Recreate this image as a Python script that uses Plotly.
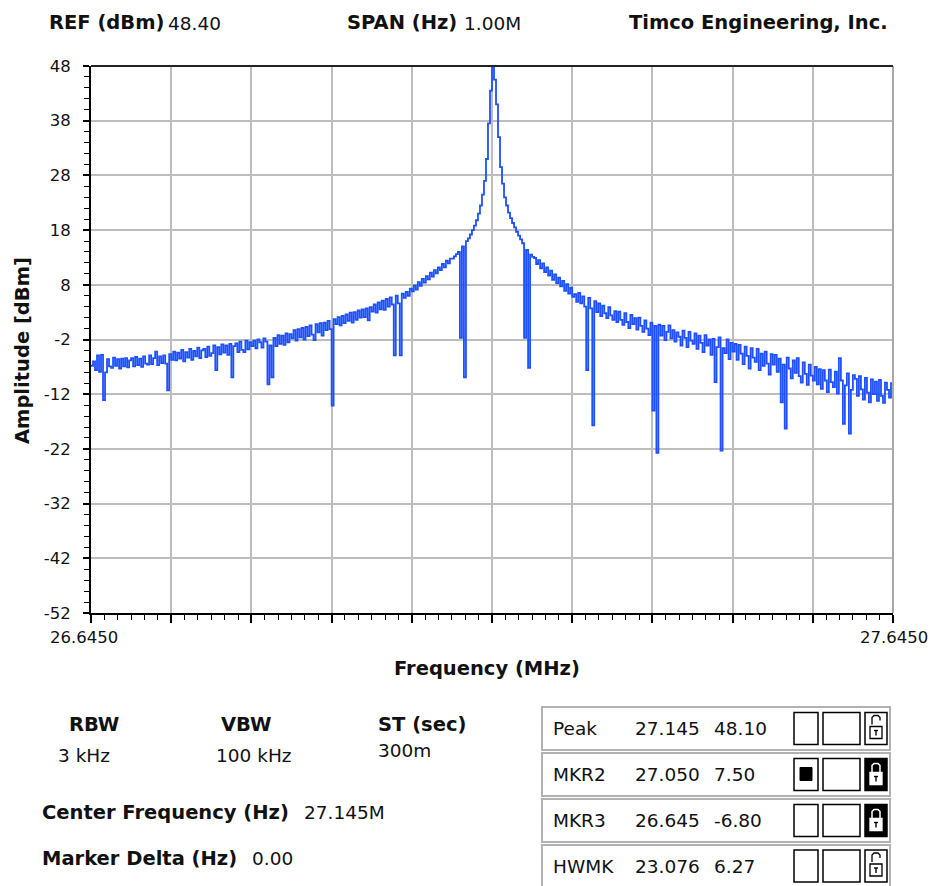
import plotly.graph_objects as go

# ---------------- data ----------------
F_START = 26.645
F_STOP = 27.645

AMP_DBM = [
    -6.8, -6.0, -7.6, -4.9, -7.9, -4.8, -13.1, -8.0, -5.6, -6.9, -7.2, -5.3, -6.8, -5.6, -7.3, -5.5, -6.9, -5.4, -7.1, -5.8,
    -5.4, -6.9, -5.2, -6.7, -5.5, -7.0, -5.1, -6.4, -6.6, -4.9, -6.5, -5.4, -4.2, -6.7, -5.1, -6.3, -4.9, -6.4, -11.3, -4.7,
    -5.7, -4.2, -5.8, -4.4, -5.5, -3.9, -6.0, -4.3, -5.3, -3.7, -5.7, -4.1, -5.1, -3.5, -5.4, -4.0, -3.7, -5.2, -3.3, -5.0,
    -4.5, -3.1, -7.6, -3.4, -4.7, -2.9, -4.4, -3.1, -4.8, -2.8, -8.9, -3.2, -2.7, -4.3, -2.4, -3.9, -4.3, -2.2, -3.8, -2.5,
    -3.2, -2.2, -3.6, -2.0, -2.5, -3.5, -1.8, -2.4, -10.2, -3.1, -8.9, -1.7, -3.2, -1.2, -2.8, -1.3, -3.0, -0.9, -2.5, -1.0,
    -1.8, -0.3, -2.2, -0.1, -1.6, 0.1, -2.0, 0.3, -1.4, 0.6, -1.1, -2.1, 0.8, -0.7, 1.0, -1.3, 1.1, -0.3, 1.4, -0.1,
    -14.1, 1.7, 0.8, 2.1, 0.6, 2.3, 1.0, 2.6, 1.4, 2.9, 1.1, 3.0, 1.6, 3.3, 2.0, 3.5, 2.1, 3.7, 1.5, 3.9,
    3.1, 4.4, 2.9, 4.8, 3.5, 5.1, 3.4, 5.4, 4.0, 5.7, 4.4, -4.9, 6.0, 4.6, -4.9, 6.4, 5.6, 6.7, 6.0, 7.3,
    6.8, 7.9, 7.1, 8.5, 7.8, 9.1, 8.4, 9.6, 9.0, 10.2, 9.5, 10.7, 10.1, 11.2, 10.7, 11.8, 11.2, 12.4, 11.9, 12.8,
    12.8, 13.2, 13.6, 14.0, -1.7, 15.0, -8.9, 16.0, 16.5, 17.2, 18.0, 18.8, 19.8, 21.0, 22.5, 24.5, 27.0, 31.0, 37.5, 43.5,
    48.1,
    45.5, 41.0, 35.0, 29.5, 26.5, 24.0, 22.5, 21.2, 20.2, 19.3, 18.5, 17.7, 17.0, 16.3, 15.6, -1.7, 14.4, -7.2, 13.5, 13.1,
    12.9, 11.8, 12.5, 11.0, 11.9, 10.3, 11.2, 9.7, 10.6, 8.9, 9.9, 8.3, 9.3, 7.7, 8.7, 6.9, 8.1, 6.4, 7.5, 5.8,
    6.3, 4.9, 6.5, 4.6, 5.9, 4.0, -7.6, 5.6, 3.7, -17.7, 5.0, 3.0, 4.6, 2.3, 4.2, 2.8, 1.9, 3.9, 2.4, 1.6,
    3.2, 1.2, 3.1, 1.6, 0.7, 2.8, 1.2, 0.1, 2.5, 0.8, 1.9, -0.2, 2.0, 0.5, -0.6, 1.5, 0.0, -1.2, 1.1, -15.0,
    0.5, -22.7, 0.7, -1.3, 0.5, -2.1, -0.6, 0.6, -1.8, -0.3, -2.4, -0.7, -1.5, -3.1, -0.4, -1.7, -3.4, -0.6, -2.2, -2.8,
    -0.9, -3.7, -1.3, -2.6, -4.3, -1.2, -3.1, -2.0, -4.8, -1.9, -9.8, -3.4, -1.6, -22.3, -3.6, -4.5, -2.0, -5.6, -2.6, -4.2,
    -2.8, -5.7, -3.0, -4.6, -6.5, -3.3, -5.0, -7.3, -3.6, -5.3, -6.1, -3.7, -7.6, -4.6, -6.8, -4.2, -6.4, -8.4, -4.7, -6.6,
    -4.8, -7.9, -5.5, -13.5, -6.6, -18.3, -5.3, -7.3, -9.1, -5.8, -8.1, -5.4, -8.7, -9.9, -6.2, -8.3, -10.3, -6.6, -8.6, -9.5,
    -7.0, -10.2, -7.4, -11.0, -7.6, -9.5, -11.6, -7.5, -9.8, -10.7, -7.9, -11.9, -5.4, -9.5, -17.4, -10.4, -8.2, -19.2, -11.2, -8.5,
    -9.2, -12.3, -8.7, -11.1, -13.0, -9.0, -11.7, -13.5, -9.3, -12.0, -9.7, -13.2, -9.4, -12.3, -13.6, -9.9, -11.2, -12.6, -10.0, -10.5,
]

Y_TICKS = [48, 38, 28, 18, 8, -2, -12, -22, -32, -42, -52]
X_GRID = [26.645, 26.745, 26.845, 26.945, 27.045, 27.145, 27.245, 27.345, 27.445, 27.545, 27.645]
X_END_LABELS = ["26.6450", "27.6450"]

HEADER = [("REF (dBm)", "48.40"), ("SPAN (Hz)", "1.00M")]
COMPANY = "Timco Engineering, Inc."
SETTINGS = [("RBW", "3 kHz"), ("VBW", "100 kHz"), ("ST (sec)", "300m")]
CENTER_FREQ = "27.145M"
MARKER_DELTA = "0.00"

MARKER_NAMES = ["Peak", "MKR2", "MKR3", "HWMK"]
MARKER_FREQ = ["27.145", "27.050", "26.645", "23.076"]
MARKER_AMP = ["48.10", "7.50", "-6.80", "6.27"]
MARKER_ACTIVE = [False, True, False, False]
MARKER_LOCKED = [False, True, True, False]

# ---------------- layout geometry ----------------
W, H = 932, 886
L, R, T, B = 91, 893, 66, 613   # plot area in window pixels
PW, PH = R - L, B - T

def px(x):
    return (x - L) / PW

def py(y):
    return (B - y) / PH

FONT = "DejaVu Sans"
TXT = "#111111"
BOLD = 19.5
NORM = 18.5

n = len(AMP_DBM)
freq = [F_START + i * (F_STOP - F_START) / (n - 1) for i in range(n)]

fig = go.Figure()
fig.add_trace(go.Scatter(
    x=freq, y=AMP_DBM, mode="lines",
    line=dict(color="#1e50ff", width=1.8, shape="hv"),
    hoverinfo="skip", showlegend=False,
))

annotations = []
shapes = []

def text(x, y, s, size, bold=False, anchor="left", color=TXT, angle=0):
    annotations.append(dict(
        x=px(x), y=py(y), xref="paper", yref="paper",
        text=f"<b>{s}</b>" if bold else s, showarrow=False,
        xanchor=anchor, yanchor="middle", textangle=angle,
        font=dict(family=FONT, size=size, color=color),
    ))

# header
text(47, 22, HEADER[0][0], BOLD, bold=True)
text(166, 23, HEADER[0][1], NORM)
text(345, 22, HEADER[1][0], BOLD, bold=True)
text(462, 23, HEADER[1][1], NORM)
text(890, 22, COMPANY, BOLD, bold=True, anchor="right")

# axis titles and end labels of the frequency axis
text(22, 351, "Amplitude [dBm]", BOLD, bold=True, anchor="center", angle=-90)
text(487, 668, "Frequency (MHz)", BOLD, bold=True, anchor="center")
text(48, 637, X_END_LABELS[0], 16.5)
text(930, 637, X_END_LABELS[1], 16.5, anchor="right")

# settings block
set_x = [(94, 84), (246, 254), (376, 376)]
for (lab, val), (xl, xv) in zip(SETTINGS, set_x):
    if lab.startswith("ST"):
        text(xl, 724, lab, BOLD, bold=True)
        text(xv, 750, val, NORM)
    else:
        text(xl, 724, lab, BOLD, bold=True, anchor="center")
        text(xv, 755, val, NORM, anchor="center")

text(40, 812, "Center Frequency (Hz)", BOLD, bold=True)
text(302, 812, CENTER_FREQ, NORM)
text(40, 859, "Marker Delta (Hz)", BOLD, bold=True)
text(250, 859, MARKER_DELTA, NORM)

# marker table
def rect(x0, y0, x1, y1, line="#000000", lw=1.5, fill="white"):
    shapes.append(dict(type="rect", xref="paper", yref="paper",
                       x0=px(x0), x1=px(x1), y0=py(y1), y1=py(y0),
                       line=dict(color=line, width=lw), fillcolor=fill, layer="above"))

def path(points, line="#000000", lw=1.5):
    d = "M " + " L ".join(f"{px(a):.5f},{py(b):.5f}" for a, b in points)
    shapes.append(dict(type="path", xref="paper", yref="paper", path=d,
                       line=dict(color=line, width=lw), layer="above"))

row_top = [707, 753, 799, 845]
row_bot = [750, 796, 842, 900]
row_cy = [728.5, 774.5, 820.5, 866]
for i, name in enumerate(MARKER_NAMES):
    y0, y1, cy = row_top[i], row_bot[i], row_cy[i]
    rect(542, y0, 890, y1, line="#b2b2b2", lw=2)
    text(551, cy, name, NORM)
    text(633, cy, MARKER_FREQ[i], NORM)
    text(712, cy, MARKER_AMP[i], NORM)
    # check boxes
    rect(794, cy - 16, 818, cy + 16)
    if MARKER_ACTIVE[i]:
        rect(800, cy - 7, 812, cy + 6, fill="#000000", lw=1)
    rect(823, cy - 16, 860, cy + 16)
    # lock box
    locked = MARKER_LOCKED[i]
    rect(865, cy - 16, 887, cy + 16, fill="#000000" if locked else "white")
    fg = "white" if locked else "#000000"
    rect(870, cy - 2, 882, cy + 10, line=fg, lw=1.3, fill="white")
    if locked:
        path([(872, cy - 2), (872, cy - 9), (874, cy - 11), (878, cy - 11), (880, cy - 9), (880, cy - 2)],
             line="white", lw=1.5)
    else:
        path([(872, cy - 4), (872, cy - 11), (874, cy - 13), (878, cy - 13), (880, cy - 11), (880, cy - 8)],
             line="#000000", lw=1.3)
    path([(876, cy + 2), (876, cy + 7)], line="#000000", lw=1.4)
    path([(874, cy + 2), (878, cy + 2)], line="#000000", lw=1.4)

# right border of plot (grey) and top border (dark)
shapes.append(dict(type="line", xref="paper", yref="paper", x0=1, x1=1, y0=0, y1=1,
                   line=dict(color="#a8a8a8", width=2), layer="above"))
shapes.append(dict(type="line", xref="paper", yref="paper", x0=0, x1=1, y0=1, y1=1,
                   line=dict(color="#222222", width=2), layer="above"))

fig.update_layout(
    width=W, height=H,
    margin=dict(l=L, r=W - R, t=T, b=H - B, pad=0),
    paper_bgcolor="white", plot_bgcolor="white",
    showlegend=False,
    font=dict(family=FONT, size=16, color=TXT),
    annotations=annotations, shapes=shapes,
    xaxis=dict(
        range=[F_START, F_STOP], tickmode="array", tickvals=X_GRID,
        ticktext=["" for _ in X_GRID],
        showgrid=True, gridcolor="#bdbdbd", gridwidth=2,
        showline=True, linecolor="#000000", linewidth=2,
        ticks="outside", ticklen=8, tickwidth=1.5, tickcolor="#000000",
        minor=dict(tickmode="linear", tick0=F_START, dtick=(F_STOP - F_START) / 60,
                   ticks="outside", ticklen=5, tickwidth=1.2, tickcolor="#000000", showgrid=False),
        zeroline=False, fixedrange=True,
    ),
    yaxis=dict(
        range=[-52, 48], tickmode="array", tickvals=Y_TICKS, ticktext=[str(v) for v in Y_TICKS],
        showgrid=True, gridcolor="#bdbdbd", gridwidth=2,
        showline=True, linecolor="#000000", linewidth=2,
        ticks="outside", ticklen=6, tickwidth=1.5, tickcolor="#000000",
        tickfont=dict(family=FONT, size=16.5, color=TXT),
        ticklabelstandoff=9,
        minor=dict(tickmode="linear", tick0=-52, dtick=2,
                   ticks="outside", ticklen=5, tickwidth=1.2, tickcolor="#000000", showgrid=False),
        zeroline=False, fixedrange=True,
    ),
)

fig.write_html(
    "out.html",
    config={"displayModeBar": False},
    post_script="document.body.style.margin='0';document.documentElement.style.overflow='hidden';",
)
